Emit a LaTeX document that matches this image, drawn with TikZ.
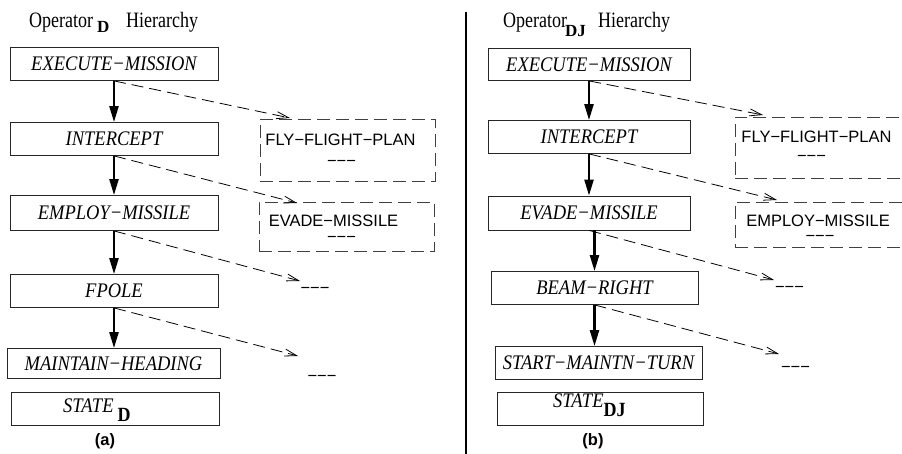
\documentclass[tikz,border=0pt]{standalone}
\usepackage{fontspec}
\setmainfont{Liberation Serif}
\newfontfamily\labelsans{Liberation Sans}
\usetikzlibrary{arrows.meta}

\tikzset{
  opbox/.style={draw=black!85, line width=0.8pt, inner sep=0pt,
    minimum width=208pt, minimum height=33pt,
    font=\fontsize{18.5}{20}\selectfont\itshape},
  altbox/.style={draw=black!75, line width=0.9pt, dash pattern=on 13pt off 6pt,
    inner sep=0pt, minimum width=175pt},
  alttext/.style={inner sep=0pt, anchor=base, font=\fontsize{16.5}{18}\selectfont\labelsans},
  titletext/.style={inner sep=0pt, anchor=base west, font=\fontsize{18}{20}\selectfont},
  subbold/.style={inner sep=0pt, anchor=base west, font=\fontsize{17}{18}\selectfont\bfseries},
  statetext/.style={inner sep=0pt, anchor=base west, font=\fontsize{18.5}{20}\selectfont\itshape},
  caption/.style={inner sep=0pt, font=\fontsize{16.5}{18}\selectfont\labelsans\bfseries},
  child/.style={line width=2.3pt, -{Triangle[length=16pt,width=9pt]}},
  option/.style={line width=0.8pt, dash pattern=on 12pt off 6pt,
    -{Straight Barb[length=12pt,width=7pt,line width=0.8pt]}},
}

% serif labels in this figure are set slightly taller than their width
\newcommand{\tall}[1]{\scalebox{1}[1.12]{#1}}
\newcommand{\titletall}[1]{\scalebox{1}[1.22]{#1}}
\newcommand{\lowbold}[1]{\raisebox{-9pt}{\fontsize{18}{18}\selectfont\bfseries\upshape\tall{#1}}}

\begin{document}
\begin{tikzpicture}[x=1pt,y=-1pt]
\useasboundingbox (0,0) rectangle (902,454);
\clip (0,0) rectangle (902,454);

% ---------------- (a) left hierarchy ----------------
\node[titletext] (ta1) at (29,28) {\titletall{Operator}};
\node[subbold] (ta2) at (97,33) {D};
\node[titletext] (ta3) at (126,28) {\titletall{Hierarchy}};

\node[opbox] (l1) at (114,64) {\tall{EXECUTE−MISSION}};
\node[opbox] (l2) at (114,139) {\tall{INTERCEPT}};
\node[opbox, minimum height=35pt] (l3) at (114,213) {\tall{EMPLOY−MISSILE}};
\node[opbox] (l4) at (114,291) {\tall{FPOLE}};
\node[opbox, minimum width=213pt, minimum height=30pt] (l5) at (113.5,363.5) {\tall{MAINTAIN−HEADING}};
\node[opbox, minimum height=33pt] (l6) at (115.5,408.5) {};
\node[statetext] (l6t) at (63,412) {\tall{STATE}\hspace{4pt}\lowbold{D}};

\draw[child] (l1.south) -- (l2.north);
\draw[child] (l2.south) -- (l3.north);
\draw[child] (l3.south) -- (l4.north);
\draw[child] (l4.south) -- (l4.south |- l5.north);

% alternative operators
\node[altbox, minimum height=62pt] (la1) at (347.5,150.5) {};
\node[alttext] (la1t) at (340.5,146) {FLY−FLIGHT−PLAN};
\node[alttext] (la1d) at (341.5,167) {−−−};
\node[altbox, minimum height=49pt] (la2) at (346.5,226.5) {};
\node[alttext] (la2t) at (333.5,227) {EVADE−MISSILE};
\node[alttext] (la2d) at (341.5,243) {−−−};
\node[alttext] (la3d) at (315,294) {−−−};
\node[alttext] (la4d) at (322,381) {−−−};

\coordinate (lt1) at (290,118);
\coordinate (lt2) at (297,203);
\coordinate (lt3) at (300,281);
\coordinate (lt4) at (298,356);
\draw[option] (l1.south) -- (lt1);
\draw[option] (l2.south) -- (lt2);
\draw[option] (l3.south) -- (lt3);
\draw[option] (l4.south) -- (lt4);

\node[caption] (capa) at (105,441) {(a)};

% separator
\coordinate (sepT) at (466,12);
\coordinate (sepB) at (466,454);
\draw[line width=2.5pt] (sepT) -- (sepB);

% ---------------- (b) right hierarchy ----------------
\node[titletext] (tb1) at (503,28) {\titletall{Operator}};
\node[subbold] (tb2) at (565,37) {DJ};
\node[titletext] (tb3) at (598,28) {\titletall{Hierarchy}};

\node[opbox, minimum width=202pt, minimum height=32pt] (r1) at (589,64.5) {\tall{EXECUTE−MISSION}};
\node[opbox, minimum width=202pt] (r2) at (589,137) {\tall{INTERCEPT}};
\node[opbox, minimum width=202pt, minimum height=34pt] (r3) at (589,213) {\tall{EVADE−MISSILE}};
\node[opbox, minimum width=207pt] (r4) at (594.5,288) {\tall{BEAM−RIGHT}};
\node[opbox, minimum width=207pt] (r5) at (598.5,363) {\tall{START−MAINTN−TURN}};
\node[opbox, minimum width=206pt, minimum height=33pt] (r6) at (600,408.5) {};
\node[statetext] (r6t) at (553,407) {\tall{STATE}\lowbold{DJ}};

\draw[child] (r1.south) -- (r2.north);
\draw[child] (r2.south) -- (r3.north);
\draw[child] (r4.north |- r3.south) -- (r4.north);
\draw[child] (r4.south) -- (r4.south |- r5.north);

\node[altbox, minimum height=61pt] (ra1) at (822.5,147.5) {};
\node[alttext] (ra1t) at (816.5,143) {FLY−FLIGHT−PLAN};
\node[alttext] (ra1d) at (811.5,162) {−−−};
\node[altbox, minimum height=45pt] (ra2) at (822.5,224.5) {};
\node[alttext] (ra2t) at (818,227) {EMPLOY−MISSILE};
\node[alttext] (ra2d) at (820,242) {−−−};
\node[alttext] (ra3d) at (789.5,293) {−−−};
\node[alttext] (ra4d) at (795.5,372) {−−−};

\coordinate (rt1) at (763,115);
\coordinate (rt2) at (777,200);
\coordinate (rt3) at (774,280);
\coordinate (rt4) at (779,354);
\draw[option] (r1.south) -- (rt1);
\draw[option] (r2.south) -- (rt2);
\draw[option] (r3.south) -- (rt3);
\draw[option] (r4.south) -- (rt4);

\node[caption] (capb) at (593,441) {(b)};
\end{tikzpicture}
\end{document}
